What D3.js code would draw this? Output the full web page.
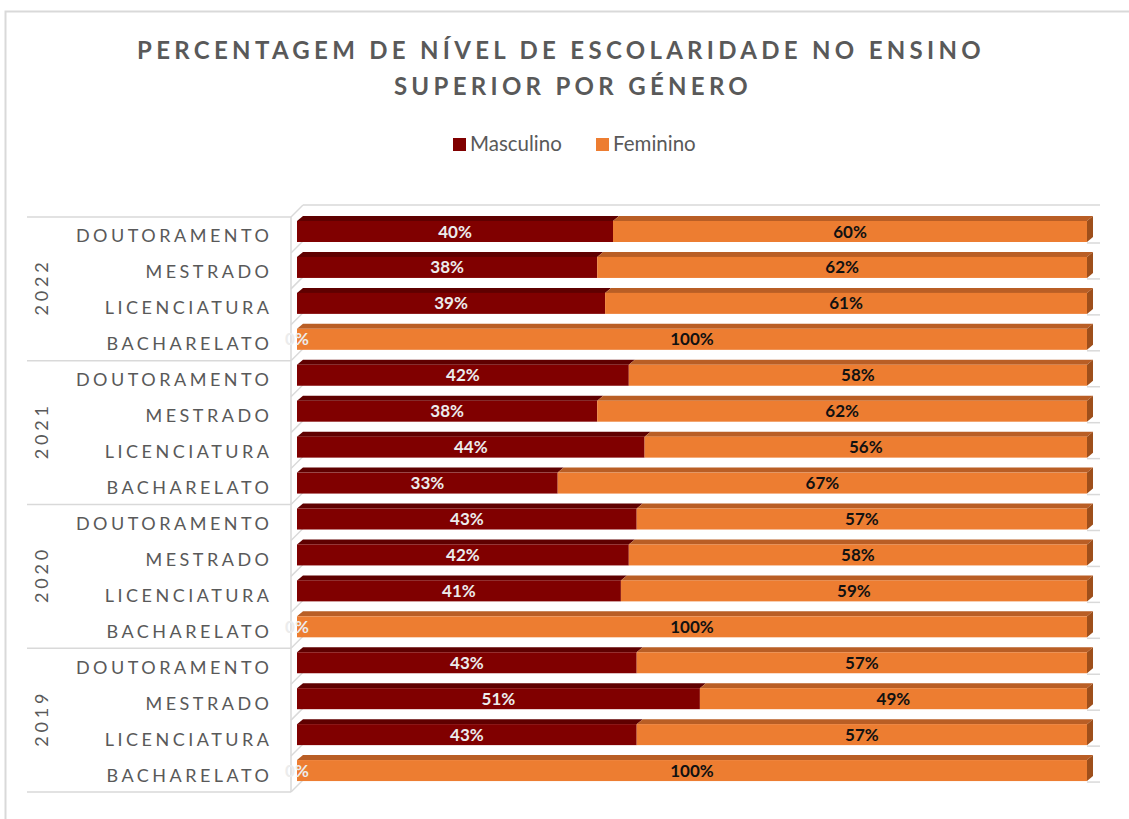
<!DOCTYPE html>
<html>
<head>
<meta charset="utf-8">
<script src="https://cdn.jsdelivr.net/npm/d3@7"></script>
<style>
  body { margin: 0; background: #fff; }
  svg { display: block; }
</style>
</head>
<body>
<div id="chart"></div>
<script>
const years = ["2022", "2021", "2020", "2019"]
const levels = ["DOUTORAMENTO", "MESTRADO", "LICENCIATURA", "BACHARELATO"]
// one row per year, levels in the order above (top to bottom)
const masculino = [
    [40, 38, 39, 0],
    [42, 38, 44, 33],
    [43, 42, 41, 0],
    [43, 51, 43, 0]
]
const feminino = [
    [60, 62, 61, 100],
    [58, 62, 56, 67],
    [57, 58, 59, 100],
    [57, 49, 57, 100]
]
const seriesNames = ["Masculino", "Feminino"]

const width = 1129
const height = 819
const font = "Lato, 'Open Sans', sans-serif"

const rows = []
years.forEach((yr, i) => {
    levels.forEach((lv, j) => {
        rows.push({ key: yr + "-" + lv, year: yr, level: lv, m: masculino[i][j], f: feminino[i][j] })
    })
})

const svg = d3.select("#chart").append("svg")
    .attr("width", width)
    .attr("height", height)

// outer chart border (cropped on right and bottom)
svg.append("rect")
    .attr("x", 5.5).attr("y", 11.5)
    .attr("width", 1200).attr("height", 900)
    .attr("fill", "none")
    .attr("stroke", "#d9d9d9")
    .attr("stroke-width", 2)

// title
const title = svg.append("text")
    .attr("text-anchor", "middle")
    .attr("font-family", font)
    .attr("font-weight", "bold")
    .attr("font-size", 24)
    .attr("letter-spacing", 4.3)
    .attr("fill", "#595959")
title.append("tspan").attr("x", 561).attr("y", 59).text("PERCENTAGEM DE NÍVEL DE ESCOLARIDADE NO ENSINO")
title.append("tspan").attr("x", 573).attr("y", 95).text("SUPERIOR POR GÉNERO")

const color = d3.scaleOrdinal().domain(seriesNames).range(["#800000", "#ed7d31"])
const topColor = d3.scaleOrdinal().domain(seriesNames).range(["#5f0000", "#b95e25"])
const sideColor = "#9e4f1b"

// legend
const legend = svg.append("g").attr("font-family", font).attr("font-size", 20.5).attr("fill", "#595959")
const legendX = d3.scaleOrdinal().domain(seriesNames).range([453, 596])
seriesNames.forEach(s => {
    legend.append("rect")
        .attr("x", legendX(s)).attr("y", 138)
        .attr("width", 13).attr("height", 13)
        .attr("fill", color(s))
    legend.append("text")
        .attr("x", legendX(s) + 17).attr("y", 151)
        .text(s)
})

// scales
const x = d3.scaleLinear().domain([0, 100]).range([297, 1087])
const y = d3.scaleBand().domain(rows.map(d => d.key)).range([217, 792])
const band = y.bandwidth()
const barTop = 4
const barH = 21
const bdx = 6, bdy = 5      // bar depth
const wdx = 12, wdy = 12    // wall depth
const grid = "#d9d9d9"

const walls = svg.append("g").attr("stroke", grid).attr("stroke-width", 1.5).attr("fill", "none")
// back wall top line
walls.append("line")
    .attr("x1", x(0) - 6 + wdx).attr("y1", y.range()[0] - wdy)
    .attr("x2", x(100) + 13).attr("y2", y.range()[0] - wdy)
// left wall front edge
walls.append("line")
    .attr("x1", x(0) - 6).attr("y1", y.range()[0])
    .attr("x2", x(0) - 6).attr("y2", y.range()[1])
// category boundaries on the left wall
const boundaries = rows.map(d => y(d.key)).concat([y.range()[1]])
walls.selectAll(".diag").data(boundaries).enter().append("line")
    .attr("class", "diag")
    .attr("x1", x(0) - 6).attr("y1", d => d)
    .attr("x2", x(0) - 6 + wdx).attr("y2", d => d - wdy)
// group separators running into the axis labels
const groupLines = years.map(yr => y(yr + "-" + levels[0])).concat([y.range()[1]])
walls.selectAll(".sep").data(groupLines).enter().append("line")
    .attr("class", "sep")
    .attr("x1", 27).attr("y1", d => d)
    .attr("x2", x(0) - 6).attr("y2", d => d)
// little floor marks at the right end of each bar
walls.selectAll(".floor").data(rows).enter().append("line")
    .attr("class", "floor")
    .attr("x1", x(100)).attr("y1", d => y(d.key) + barTop + barH + 1)
    .attr("x2", x(100) + 13).attr("y2", d => y(d.key) + barTop + barH + 1)

// bars
const bars = svg.append("g")
function drawSegment(g, x0, x1, yTop, s, withSide) {
    const w = x1 - x0
    if (w <= 0) return
    g.append("polygon")
        .attr("points", [[x0, yTop], [x0 + bdx, yTop - bdy], [x1 + bdx, yTop - bdy], [x1, yTop]].join(" "))
        .attr("fill", topColor(s))
    g.append("rect")
        .attr("x", x0).attr("y", yTop)
        .attr("width", w).attr("height", barH)
        .attr("fill", color(s))
    if (withSide) {
        g.append("polygon")
            .attr("points", [[x1, yTop], [x1 + bdx, yTop - bdy], [x1 + bdx, yTop + barH - bdy], [x1, yTop + barH]].join(" "))
            .attr("fill", sideColor)
    }
}
rows.forEach(d => {
    const g = bars.append("g")
    const yTop = y(d.key) + barTop
    drawSegment(g, x(0), x(d.m), yTop, "Masculino", false)
    drawSegment(g, x(d.m), x(d.m + d.f), yTop, "Feminino", true)
})

// value labels
const labels = svg.append("g")
    .attr("font-family", font)
    .attr("font-weight", "bold")
    .attr("font-size", 17)
    .attr("text-anchor", "middle")
labels.selectAll(".lm").data(rows).enter().append("text")
    .attr("class", "lm")
    .attr("x", d => (x(0) + x(d.m)) / 2)
    .attr("y", d => y(d.key) + barTop + barH / 2 + 6)
    .attr("fill", "#ececec")
    .text(d => d.m + "%")
labels.selectAll(".lf").data(rows).enter().append("text")
    .attr("class", "lf")
    .attr("x", d => (x(d.m) + x(d.m + d.f)) / 2)
    .attr("y", d => y(d.key) + barTop + barH / 2 + 6)
    .attr("fill", "#111")
    .text(d => d.f + "%")

// category labels
const catSpacing = 3.5
svg.append("g")
    .attr("font-family", font)
    .attr("font-size", 18)
    .attr("letter-spacing", catSpacing)
    .attr("fill", "#595959")
    .attr("text-anchor", "end")
    .selectAll("text").data(rows).enter().append("text")
    .attr("x", 269 + catSpacing)
    .attr("y", d => y(d.key) + band / 2 + 7.5)
    .text(d => d.level)

// year labels
svg.append("g")
    .attr("font-family", font)
    .attr("font-size", 18)
    .attr("letter-spacing", 3.8)
    .attr("fill", "#595959")
    .attr("text-anchor", "middle")
    .selectAll("text").data(years).enter().append("text")
    .attr("transform", yr => {
        const cy = y(yr + "-" + levels[0]) + band * 2
        return "translate(48," + cy + ") rotate(-90)"
    })
    .attr("dx", 1.9)
    .text(yr => yr)
</script>
</body>
</html>
